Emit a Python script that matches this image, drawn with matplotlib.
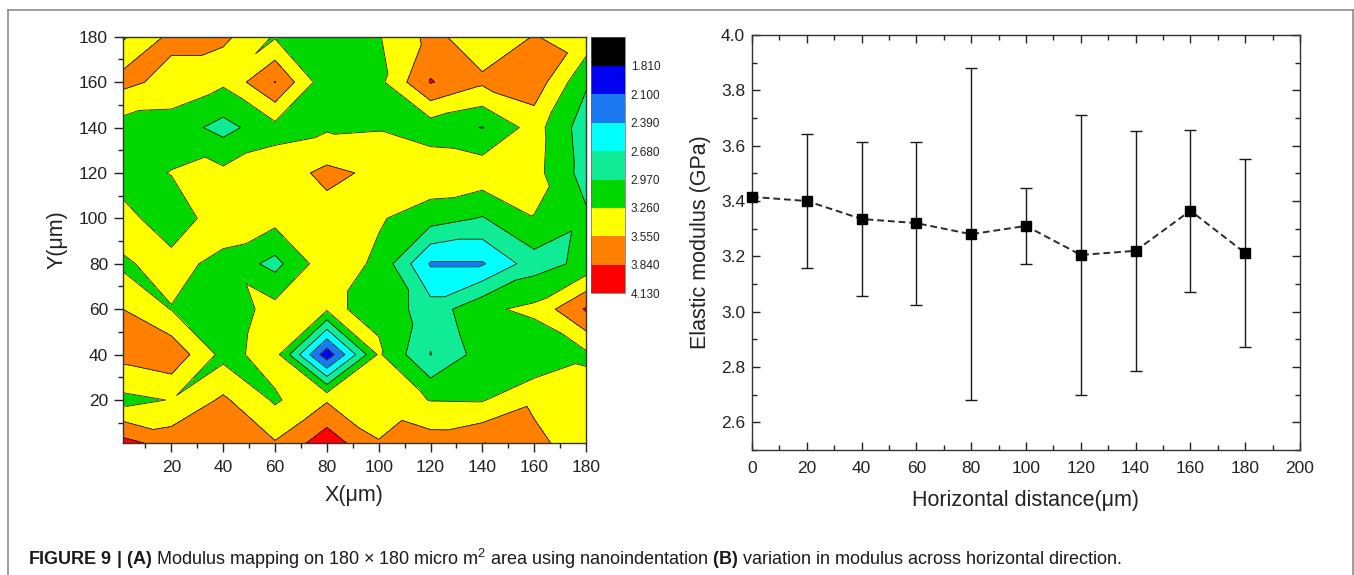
import numpy as np
import matplotlib
matplotlib.use("Agg")
import matplotlib.pyplot as plt
import matplotlib.tri as mtri
from matplotlib.lines import Line2D
from matplotlib.ticker import MultipleLocator, FixedLocator, FormatStrFormatter

plt.rcParams['font.family'] = ['Liberation Sans', 'DejaVu Sans']
plt.rcParams['mathtext.fontset'] = 'custom'
plt.rcParams['mathtext.rm'] = 'Liberation Sans'
plt.rcParams['mathtext.bf'] = 'Liberation Sans:bold'
plt.rcParams['mathtext.it'] = 'Liberation Sans:italic'

# ---- (A) nanoindentation modulus map, GPa, rows run from y = 0 up to y = 180 um
grid_x = [0, 20, 40, 60, 80, 100, 120, 140, 160, 180]
grid_y = [0, 20, 40, 60, 80, 100, 120, 140, 160, 180]
modulus_map = [
    [4.00, 3.75, 3.70, 3.59, 4.05, 3.57, 3.71, 3.86, 3.62, 3.42],
    [3.18, 3.27, 3.60, 3.22, 3.52, 3.42, 3.25, 3.24, 3.50, 3.43],
    [3.64, 3.76, 3.17, 3.38, 1.90, 3.30, 2.67, 3.10, 3.00, 3.20],
    [3.57, 3.25, 3.10, 3.36, 3.30, 3.20, 2.80, 3.20, 3.33, 3.87],
    [3.22, 3.35, 3.18, 2.88, 3.45, 3.20, 2.36, 2.36, 2.84, 3.05],
    [3.37, 3.10, 3.42, 3.36, 3.44, 3.29, 3.10, 2.95, 3.25, 3.02],
    [3.15, 3.27, 3.33, 3.40, 3.62, 3.49, 3.48, 3.45, 3.36, 2.85],
    [3.145, 3.13, 2.87, 3.17, 3.22, 3.24, 3.10, 2.96, 3.38, 2.81],
    [3.645, 3.45, 3.31, 3.85, 3.05, 3.18, 3.86, 3.60, 3.73, 3.01],
    [3.19, 3.62, 3.62, 3.23, 3.15, 3.24, 3.63, 3.38, 3.56, 3.45],
]
contour_levels = [1.52, 1.81, 2.10, 2.39, 2.68, 2.97, 3.26, 3.55, 3.84, 4.13]
level_colors = ['#000000', '#0000f0', '#1a78f0', '#00ffff', '#10ec96',
                '#00d800', '#ffff00', '#ff8000', '#ff0000']

# ---- (B) mean modulus along the horizontal direction
distance = [0, 20, 40, 60, 80, 100, 120, 140, 160, 180]
mean_modulus = [3.415, 3.400, 3.335, 3.320, 3.280, 3.310, 3.205, 3.220, 3.365, 3.212]
std_modulus = [np.nan, 0.243, 0.280, 0.295, 0.600, 0.138, 0.507, 0.433, 0.293, 0.340]

caption = (r"$\mathbf{FIGURE\ 9\ |\ (A)}$ Modulus mapping on 180 × 180 micro m$^{2}$ "
           r"area using nanoindentation $\mathbf{(B)}$ variation in modulus across "
           r"horizontal direction.")


def grid_triangulation(xs, ys, z):
    """Split each grid cell along the diagonal whose end values agree best."""
    nx, ny = len(xs), len(ys)
    X, Y = np.meshgrid(xs, ys)
    zf = z.ravel()
    tris = []
    for j in range(ny - 1):
        for i in range(nx - 1):
            a = j * nx + i
            b = a + 1
            c = a + nx
            d = c + 1
            if abs(zf[a] - zf[d]) <= abs(zf[b] - zf[c]):
                tris += [(a, b, d), (a, d, c)]
            else:
                tris += [(a, b, c), (b, d, c)]
    return mtri.Triangulation(X.ravel(), Y.ravel(), np.array(tris))


W, H = 1354, 575
fig = plt.figure(figsize=(W / 100, H / 100), dpi=100)
fig.patch.set_facecolor('white')

tick_col = '#222222'

# ---------------- contour map ----------------
ax1 = fig.add_axes([0.0906, 0.2301, 0.3422, 0.7061])
Z = np.array(modulus_map)
tri = grid_triangulation(grid_x, grid_y, Z)
cf = ax1.tricontourf(tri, Z.ravel(), levels=contour_levels, colors=level_colors)
ax1.tricontour(tri, Z.ravel(), levels=contour_levels[1:-1], colors='#1e1e1e',
               linewidths=0.6)
ax1.set_xlim(1.2, 180)
ax1.set_ylim(1.2, 180)
ax1.xaxis.set_major_locator(FixedLocator(grid_x[1:]))
ax1.yaxis.set_major_locator(FixedLocator(grid_y[1:]))
ax1.xaxis.set_minor_locator(MultipleLocator(10))
ax1.yaxis.set_minor_locator(MultipleLocator(10))
ax1.tick_params(which='major', direction='out', length=6.5, width=1.0,
                labelsize=12.5, colors=tick_col, pad=4)
ax1.tick_params(which='minor', direction='out', length=3.5, width=1.0, colors=tick_col)
ax1.tick_params(axis='x', which='major', pad=6)
for s in ax1.spines.values():
    s.set_linewidth(1.0)
    s.set_color('#333333')
ax1.set_xlabel('X(\u03bcm)', fontsize=15.5, color=tick_col)
ax1.set_ylabel('Y(\u03bcm)', fontsize=15.5, color=tick_col)
ax1.xaxis.set_label_coords(0.5, -0.105)
ax1.yaxis.set_label_coords(-0.118, 0.5)

# ---------------- colour scale ----------------
cax = fig.add_axes([0.4365, 0.4899, 0.0251, 0.4452])
cb = fig.colorbar(cf, cax=cax, ticks=contour_levels[1:])
cax.invert_yaxis()
cb.set_ticklabels([f"{v:.3f}" for v in contour_levels[1:]])
cax.tick_params(length=0, labelsize=8.5, colors=tick_col, pad=4)
cb.outline.set_linewidth(0.5)
cb.outline.set_edgecolor('#666666')

# ---------------- modulus profile ----------------
ax2 = fig.add_axes([0.5554, 0.2174, 0.4047, 0.7217])
ax2.plot(distance, mean_modulus, linestyle=(0, (3.5, 2)), color='#2a2a2a',
         lw=1.4, zorder=2)
ax2.errorbar(distance, mean_modulus, yerr=std_modulus, fmt='none',
             ecolor='#1a1a1a', elinewidth=1.0, capsize=4, capthick=1.0, zorder=2)
ax2.plot(distance, mean_modulus, 's', color='black', ms=7.5, zorder=3, clip_on=False)
ax2.set_xlim(0, 200)
ax2.set_ylim(2.5, 4.0)
ax2.xaxis.set_major_locator(MultipleLocator(20))
ax2.xaxis.set_minor_locator(MultipleLocator(10))
ax2.yaxis.set_major_locator(FixedLocator(np.arange(2.6, 4.01, 0.2)))
ax2.yaxis.set_minor_locator(MultipleLocator(0.1))
ax2.yaxis.set_major_formatter(FormatStrFormatter('%.1f'))
ax2.tick_params(which='both', direction='in', top=True, right=True, colors=tick_col)
ax2.tick_params(which='major', length=6, width=1.0, labelsize=12.5)
ax2.tick_params(which='minor', length=3.5, width=1.0)
ax2.tick_params(axis='x', which='major', pad=8)
ax2.tick_params(axis='y', which='major', pad=5)
for s in ax2.spines.values():
    s.set_linewidth(1.0)
    s.set_color('#333333')
ax2.set_xlabel('Horizontal distance(\u03bcm)', fontsize=15.5, color=tick_col)
ax2.set_ylabel('Elastic modulus (GPa)', fontsize=15.5, color=tick_col)
ax2.xaxis.set_label_coords(0.5, -0.097)
ax2.yaxis.set_label_coords(-0.075, 0.5)

# ---------------- frame and caption ----------------
frame_col = '#8c8c8c'
top = 1 - 10 / H
left = 8 / W
right = 1352.5 / W
fig.add_artist(Line2D([left, right], [top, top], transform=fig.transFigure,
                      color=frame_col, lw=1.2))
fig.add_artist(Line2D([left, left], [0, top], transform=fig.transFigure,
                      color=frame_col, lw=1.2))
fig.add_artist(Line2D([right, right], [0, top], transform=fig.transFigure,
                      color=frame_col, lw=1.2))
fig.text(28 / W, 1 - 559 / H, caption, fontsize=13, color='#1a1a1a',
         ha='left', va='center')

fig.savefig('out.png', dpi=100, facecolor='white')
